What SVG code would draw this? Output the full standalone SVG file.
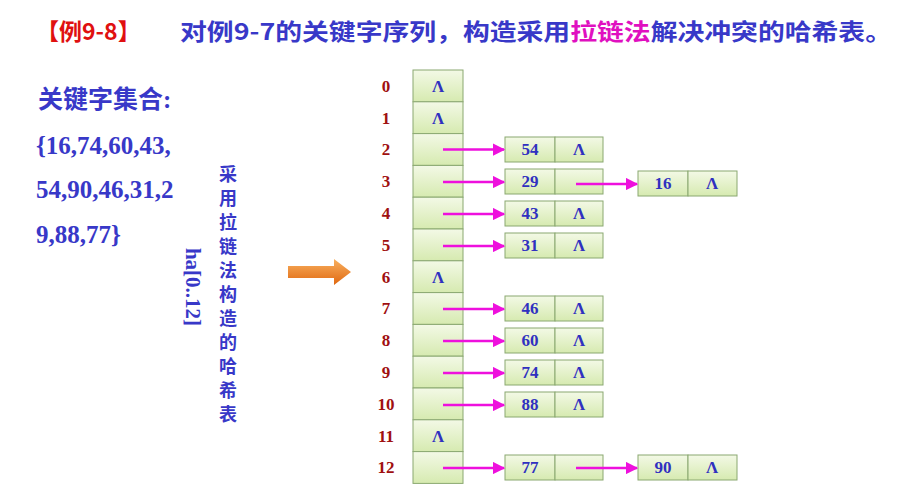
<svg xmlns="http://www.w3.org/2000/svg" width="912" height="500" viewBox="0 0 912 500">
<defs>
<linearGradient id="g" x1="0" y1="0" x2="0" y2="1"><stop offset="0" stop-color="#f3f9e6"/><stop offset="1" stop-color="#d6eab0"/></linearGradient>
<linearGradient id="og" x1="0" y1="0" x2="0" y2="1"><stop offset="0" stop-color="#f8b060"/><stop offset="1" stop-color="#e06810"/></linearGradient>
<marker id="ah" viewBox="0 0 10 10" refX="9" refY="5" markerWidth="5" markerHeight="5" orient="auto"><path d="M0,0 L10,5 L0,10 z" fill="#ee10dd"/></marker>
<style>
.c{fill:url(#g);stroke:#8aa870;stroke-width:1}
.t{font-family:"Liberation Serif",serif;font-weight:bold;fill:#3030c0;font-size:17px;text-anchor:middle}
.i{font-family:"Liberation Serif",serif;font-weight:bold;fill:#a01010;font-size:17px;text-anchor:middle}
.b{font-family:"Liberation Serif","Noto Sans CJK SC",serif;font-weight:bold;fill:#3838c8;font-size:25px}
.a{stroke:#ee10dd;stroke-width:2.5;marker-end:url(#ah);fill:none}
</style>
</defs>
<rect width="912" height="500" fill="#fff"/>
<g id="title"><text x="36" y="40" font-family="'Noto Sans CJK SC',sans-serif" font-weight="bold" font-size="23" fill="#e01010">【例9-8】</text>
<text x="180" y="40" font-family="'Noto Sans CJK SC',sans-serif" font-weight="bold" font-size="23" fill="#3838c8" textLength="712" lengthAdjust="spacingAndGlyphs">对例9-7的关键字序列，构造采用<tspan fill="#e010c0">拉链法</tspan>解决冲突的哈希表。</text></g>
<g id="keys"><text class="b" x="38" y="108" font-family="'Noto Sans CJK SC',sans-serif" font-size="22">关键字集合:</text>
<text class="b" x="36" y="154">{16,74,60,43,</text>
<text class="b" x="36" y="198">54,90,46,31,2</text>
<text class="b" x="36" y="243">9,88,77}</text></g>
<g id="vlabel" font-family="'Noto Sans CJK SC',sans-serif" font-weight="bold" font-size="18" fill="#3838c8" text-anchor="middle">
<text x="228" y="181">采</text><text x="228" y="205">用</text><text x="228" y="229">拉</text><text x="228" y="253">链</text><text x="228" y="277">法</text><text x="228" y="301">构</text><text x="228" y="325">造</text><text x="228" y="349">的</text><text x="228" y="373">哈</text><text x="228" y="397">希</text><text x="228" y="421">表</text>
<text transform="translate(186,287) rotate(90)" text-anchor="middle" font-family="'Liberation Serif',serif" font-size="21">ha[0..12]</text></g>
<g id="bigarrow"><path d="M288,266 L334,266 L334,259 L351,272 L334,285 L334,278 L288,278 z" fill="url(#og)"/></g>
<g id="table">
<rect class="c" x="413" y="70" width="50" height="31.8"/><rect class="c" x="413" y="101.8" width="50" height="31.8"/><rect class="c" x="413" y="133.6" width="50" height="31.8"/><rect class="c" x="413" y="165.4" width="50" height="31.8"/><rect class="c" x="413" y="197.2" width="50" height="31.8"/><rect class="c" x="413" y="229" width="50" height="31.8"/><rect class="c" x="413" y="260.8" width="50" height="31.8"/><rect class="c" x="413" y="292.6" width="50" height="31.8"/><rect class="c" x="413" y="324.4" width="50" height="31.8"/><rect class="c" x="413" y="356.2" width="50" height="31.8"/><rect class="c" x="413" y="388" width="50" height="31.8"/><rect class="c" x="413" y="419.8" width="50" height="31.8"/><rect class="c" x="413" y="451.6" width="50" height="31.8"/>
<text class="t" x="438" y="92">Λ</text><text class="t" x="438" y="124">Λ</text><text class="t" x="438" y="283">Λ</text><text class="t" x="438" y="442">Λ</text>
<text class="i" x="386" y="92">0</text><text class="i" x="386" y="124">1</text><text class="i" x="386" y="155">2</text><text class="i" x="386" y="187">3</text><text class="i" x="386" y="219">4</text><text class="i" x="386" y="251">5</text><text class="i" x="386" y="283">6</text><text class="i" x="386" y="314">7</text><text class="i" x="386" y="346">8</text><text class="i" x="386" y="378">9</text><text class="i" x="386" y="410">10</text><text class="i" x="386" y="442">11</text><text class="i" x="386" y="473">12</text>
</g>
<g id="n2"><rect class="c" x="505" y="137" width="50" height="25"/><rect class="c" x="555" y="137" width="48" height="25"/><text class="t" x="530" y="155">54</text><text class="t" x="579" y="155">Λ</text></g>
<g id="n3"><rect class="c" x="505" y="169" width="50" height="25"/><rect class="c" x="555" y="169" width="48" height="25"/><text class="t" x="530" y="187">29</text></g>
<g id="n3b"><rect class="c" x="638" y="171" width="50" height="25"/><rect class="c" x="688" y="171" width="49" height="25"/><text class="t" x="663" y="189">16</text><text class="t" x="712" y="189">Λ</text></g>
<g id="n4"><rect class="c" x="505" y="201" width="50" height="25"/><rect class="c" x="555" y="201" width="48" height="25"/><text class="t" x="530" y="219">43</text><text class="t" x="579" y="219">Λ</text></g>
<g id="n5"><rect class="c" x="505" y="233" width="50" height="25"/><rect class="c" x="555" y="233" width="48" height="25"/><text class="t" x="530" y="251">31</text><text class="t" x="579" y="251">Λ</text></g>
<g id="n7"><rect class="c" x="505" y="296" width="50" height="25"/><rect class="c" x="555" y="296" width="48" height="25"/><text class="t" x="530" y="314">46</text><text class="t" x="579" y="314">Λ</text></g>
<g id="n8"><rect class="c" x="505" y="328" width="50" height="25"/><rect class="c" x="555" y="328" width="48" height="25"/><text class="t" x="530" y="346">60</text><text class="t" x="579" y="346">Λ</text></g>
<g id="n9"><rect class="c" x="505" y="360" width="50" height="25"/><rect class="c" x="555" y="360" width="48" height="25"/><text class="t" x="530" y="378">74</text><text class="t" x="579" y="378">Λ</text></g>
<g id="n10"><rect class="c" x="505" y="392" width="50" height="25"/><rect class="c" x="555" y="392" width="48" height="25"/><text class="t" x="530" y="410">88</text><text class="t" x="579" y="410">Λ</text></g>
<g id="n12"><rect class="c" x="505" y="455" width="50" height="25"/><rect class="c" x="555" y="455" width="48" height="25"/><text class="t" x="530" y="473">77</text></g>
<g id="n12b"><rect class="c" x="638" y="455" width="50" height="25"/><rect class="c" x="688" y="455" width="49" height="25"/><text class="t" x="663" y="473">90</text><text class="t" x="712" y="473">Λ</text></g>
<g id="connectors">
<line class="a" x1="443" y1="149.5" x2="504" y2="149.5"/><line class="a" x1="443" y1="182" x2="504" y2="182"/><line class="a" x1="443" y1="214" x2="504" y2="214"/><line class="a" x1="443" y1="246" x2="504" y2="246"/><line class="a" x1="443" y1="309" x2="504" y2="309"/><line class="a" x1="443" y1="341" x2="504" y2="341"/><line class="a" x1="443" y1="373" x2="504" y2="373"/><line class="a" x1="443" y1="405" x2="504" y2="405"/><line class="a" x1="443" y1="468" x2="504" y2="468"/>
<line class="a" x1="576" y1="184" x2="637" y2="184"/><line class="a" x1="576" y1="468" x2="637" y2="468"/>
</g>
</svg>
